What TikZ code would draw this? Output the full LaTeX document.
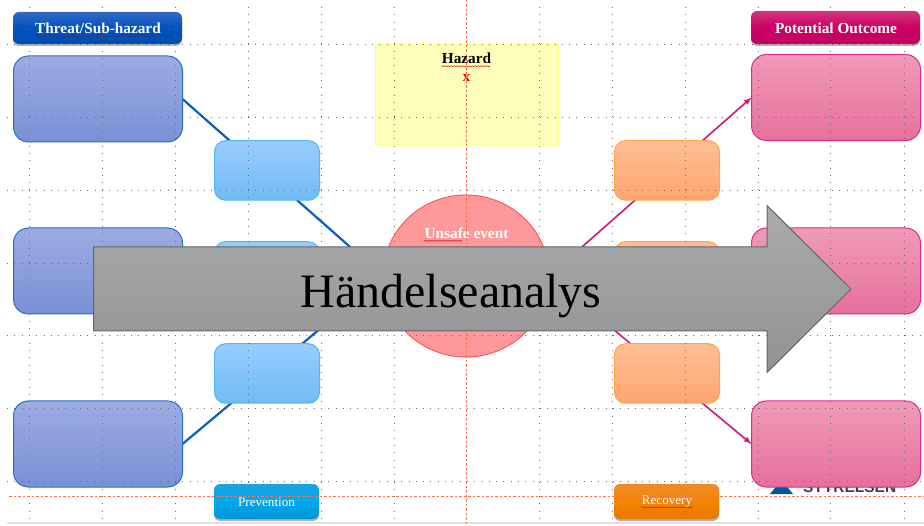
\documentclass[tikz,border=0pt]{standalone}
\usepackage{fontspec}
\setmainfont{Liberation Serif}
\setsansfont{Liberation Sans}
\usetikzlibrary{shapes.geometric,shadows,decorations.pathmorphing}
\pgfdeclarelayer{back}
\pgfdeclarelayer{connect}
\pgfsetlayers{back,connect,main}
\definecolor{threatline}{HTML}{0A5FBE}
\definecolor{outcomeline}{HTML}{D4167F}
\tikzset{
    box/.style={draw,line width=1pt,outer sep=0pt,inner sep=0pt},
    threat/.style={box,minimum width=169pt,minimum height=86pt,rounded corners=15pt,draw={rgb,255:red,40;green,110;blue,200},top color={rgb,255:red,156;green,172;blue,226},bottom color={rgb,255:red,122;green,144;blue,214}},
    outcome/.style={box,minimum width=169pt,minimum height=86pt,rounded corners=15pt,draw={rgb,255:red,221;green,42;blue,138},top color={rgb,255:red,240;green,154;blue,184},bottom color={rgb,255:red,230;green,112;blue,156}},
    prevent/.style={box,minimum width=105pt,minimum height=59.5pt,rounded corners=11pt,draw={rgb,255:red,79;green,185;blue,236},top color={rgb,255:red,153;green,204;blue,255},bottom color={rgb,255:red,112;green,187;blue,245}},
    recover/.style={box,minimum width=105pt,minimum height=59.5pt,rounded corners=11pt,draw={rgb,255:red,255;green,165;blue,70},top color={rgb,255:red,255;green,190;blue,150},bottom color={rgb,255:red,255;green,165;blue,111}},
    header/.style={outer sep=0pt,inner sep=0pt,rounded corners=6pt,text=white,drop shadow={shadow xshift=0pt,shadow yshift=-2pt,opacity=0.6}},
    titletext/.style={font=\fontsize{15.3}{17}\selectfont\bfseries},
    smalltext/.style={font=\fontsize{13.1}{15}\selectfont},
    connector/.style={threatline,line width=2.2pt},
    pointer/.style={outcomeline,line width=1.6pt,-latex},
    griddots/.style={black!58,line width=0.9pt,dash pattern=on 1pt off 6.3pt},
    guide/.style={red!60!orange!70,line width=0.7pt,dash pattern=on 2.5pt off 2pt},
    squiggle/.style={red!80!black,line width=0.4pt,decorate,decoration={snake,amplitude=0.6pt,segment length=3pt}}
}
\begin{document}
\begin{tikzpicture}[x=1pt,y=-1pt]
    \useasboundingbox (0,0) rectangle (924,526);
    \begin{pgfonlayer}{back}
        \fill[white] (0,0) rectangle (924,526);
        \fill[black!12] (7,522) rectangle (924,524);
    \end{pgfonlayer}

    \node[font=\sffamily\bfseries\fontsize{15.5}{17}\selectfont,text=black!75,anchor=base west,inner sep=0pt] (logotext) at (803,493) {STYRELSEN};
    \fill[blue!45!cyan!60!black] (770,494) -- (793,494) -- (781.5,480) -- cycle;

    \foreach \name/\y in {A/99,B/271,C/444} {
        \node[threat] (threat\name) at (98,\y) {};
    }
    \foreach \name/\y in {A/97.5,B/271,C/444} {
        \node[outcome] (outcome\name) at (836,\y) {};
    }
    \foreach \name/\y in {A/170.5,B/271.5,C/373.5} {
        \node[prevent] (prevent\name) at (267,\y) {};
        \node[recover] (recover\name) at (667,\y) {};
    }

    \node[draw={rgb,255:red,255;green,255;blue,136},fill={rgb,255:red,255;green,255;blue,187},line width=0.9pt,minimum width=183pt,minimum height=100.5pt,inner sep=0pt] (hazard) at (467,94.5) {};
    \node[titletext] (hazardlabel) at (466.5,58.5) {Hazard};
    \node[titletext,text=red] (hazardx) at (466.5,78) {x};

    \node[ellipse,draw={rgb,255:red,255;green,80;blue,96},fill={rgb,255:red,255;green,153;blue,153},line width=0.9pt,minimum width=166pt,minimum height=162pt,inner sep=0pt,outer sep=0pt] (unsafe) at (466,276) {};
    \node[titletext,text=white] (unsafelabel) at (466.5,233) {Unsafe event};

    \begin{pgfonlayer}{connect}
        \foreach \name in {A,B,C} {
            \draw[connector] (threat\name.east) -- (unsafe.180);
        }
        \foreach \name in {A,B,C} {
            \draw[pointer] (unsafe.0) -- (outcome\name.west);
        }
    \end{pgfonlayer}

    \node[header,minimum width=169pt,minimum height=32pt,top color={rgb,255:red,50;green,106;blue,196},bottom color={rgb,255:red,0;green,78;blue,178},middle color={rgb,255:red,0;green,82;blue,190}] (threathead) at (97.5,28) {};
    \node[titletext,text=white] (threatlabel) at (98,28) {Threat/Sub-hazard};
    \node[header,minimum width=169pt,minimum height=33pt,top color={rgb,255:red,212;green,52;blue,126},bottom color={rgb,255:red,198;green,0;blue,102},middle color={rgb,255:red,204;green,0;blue,102}] (outcomehead) at (835.5,27.5) {};
    \node[titletext,text=white] (outcomelabel) at (836,28) {Potential Outcome};
    \node[header,minimum width=105pt,minimum height=35pt,top color={rgb,255:red,27;green,165;blue,224},bottom color={rgb,255:red,0;green,149;blue,216},middle color={rgb,255:red,0;green,168;blue,236}] (preventhead) at (266.5,501.5) {};
    \node[smalltext,text=white] (preventlabel) at (266.5,502) {Prevention};
    \node[header,minimum width=105pt,minimum height=35pt,top color={rgb,255:red,240;green,140;blue,42},bottom color={rgb,255:red,232;green,120;blue,0},middle color={rgb,255:red,245;green,132;blue,0}] (recoverhead) at (666.5,501.5) {};
    \node[smalltext,text=white] (recoverlabel) at (667,502) {Recovery};

    \foreach \x in {29.7,102.5,175.3,248,321,394,539,612.7,685.3,758,830.8,904} {
        \draw[griddots] (\x,7) -- (\x,521);
    }
    \foreach \y in {44.5,117.3,190.2,263,335.8,408.7,481.5} {
        \draw[griddots] (7,\y) -- (924,\y);
    }
    \draw[guide] (466.5,0) -- (466.5,526);
    \draw[guide] (9,496) -- (924,496);

    \draw[squiggle] (threatlabel.base west) ++(3,2.5) -- ++(126,0);
    \draw[squiggle] (hazardlabel.base west) ++(3,2.5) -- ++(49,0);
    \draw[squiggle] (unsafelabel.base west) ++(3,2.5) -- ++(38,0);
    \draw[squiggle] (outcomelabel.base east) ++(-3,2.5) -- ++(-60,0);
    \draw[squiggle] (recoverlabel.base west) ++(3,2.5) -- ++(51,0);

    \draw[draw=black!60,line width=1pt,top color={rgb,255:red,170;green,171;blue,173},bottom color={rgb,255:red,146;green,146;blue,148}] (93.5,247) -- (767,247) -- (767,205.5) -- (851,289) -- (767,372.5) -- (767,331) -- (93.5,331) -- cycle;
    \node[font=\fontsize{48}{52}\selectfont] (eventlabel) at (451,296) {Händelseanalys};
\end{tikzpicture}
\end{document}
